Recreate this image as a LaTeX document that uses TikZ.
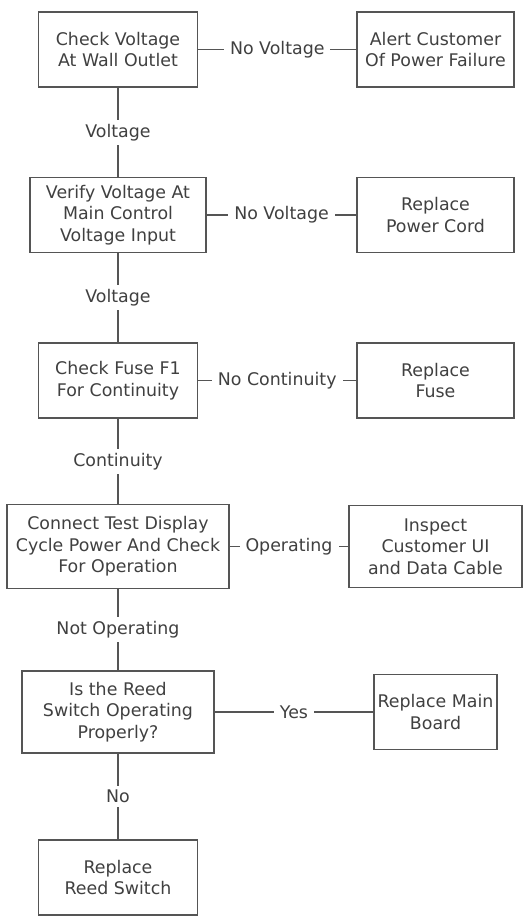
\documentclass[tikz,border=0pt]{standalone}
\usepackage{fontspec}
\setmainfont{DejaVu Sans}
\usetikzlibrary{positioning}
\definecolor{boxline}{HTML}{555555}
\definecolor{boxtext}{HTML}{404040}
\begin{document}
\begin{tikzpicture}[x=1pt, y=1pt, node distance={165.6pt},
  main/.style = {draw=boxline, line width=1.5pt, rectangle, align=center, text=boxtext, minimum width=159pt, minimum height=75pt, font=\fontsize{17.4}{21.5}\selectfont},
  cond/.style = {fill=white, text=boxtext, inner xsep=6pt, inner ysep=4pt, font=\fontsize{17.4}{21.5}\selectfont},
  link/.style = {draw=boxline, line width=1.5pt}]
\useasboundingbox (0,0) rectangle (528,-917);
\node[main] (1) at (118,-49.5) {Check Voltage\\At Wall Outlet};
\node[main, minimum width=176pt] (2) [below of=1] {Verify Voltage At\\Main Control\\Voltage Input};
\node[main] (3) [below of=2] {Check Fuse F1\\For Continuity};
\node[main, minimum width=222pt, minimum height=84pt] (4) [below of=3] {Connect Test Display\\Cycle Power And Check\\For Operation};
\node[main, minimum width=192pt, minimum height=82pt] (5) [below of=4] {Is the Reed\\Switch Operating\\Properly?};
\node[main] (6) [below of=5] {Replace\\Reed Switch};

\node[main, minimum width=157pt] (7) [node distance=317.5pt, right of=1] {Alert Customer\\Of Power Failure};
\node[main, minimum width=157pt] (8) [node distance=317.5pt, right of=2] {Replace\\Power Cord};
\node[main, minimum width=157pt] (9) [node distance=317.5pt, right of=3] {Replace\\Fuse};
\node[main, minimum width=173pt, minimum height=82pt] (10) [node distance=317.5pt, right of=4] {Inspect\\Customer UI\\and Data Cable};
\node[main, minimum width=123pt] (11) [node distance=317.5pt, right of=5] {Replace Main\\Board};

\draw[link] (1) -- node[cond] {Voltage} (2);
\draw[link] (2) -- node[cond] {Voltage} (3);
\draw[link] (3) -- node[cond] {Continuity} (4);
\draw[link] (4) -- node[cond] {Not Operating} (5);
\draw[link] (5) -- node[cond] {No} (6);

\draw[link] (1) -- node[cond] {No Voltage} (7);
\draw[link] (2) -- node[cond] {No Voltage} (8);
\draw[link] (3) -- node[cond] {No Continuity} (9);
\draw[link] (4) -- node[cond] {Operating} (10);
\draw[link] (5) -- node[cond] {Yes} (11);
\end{tikzpicture}
\end{document}
